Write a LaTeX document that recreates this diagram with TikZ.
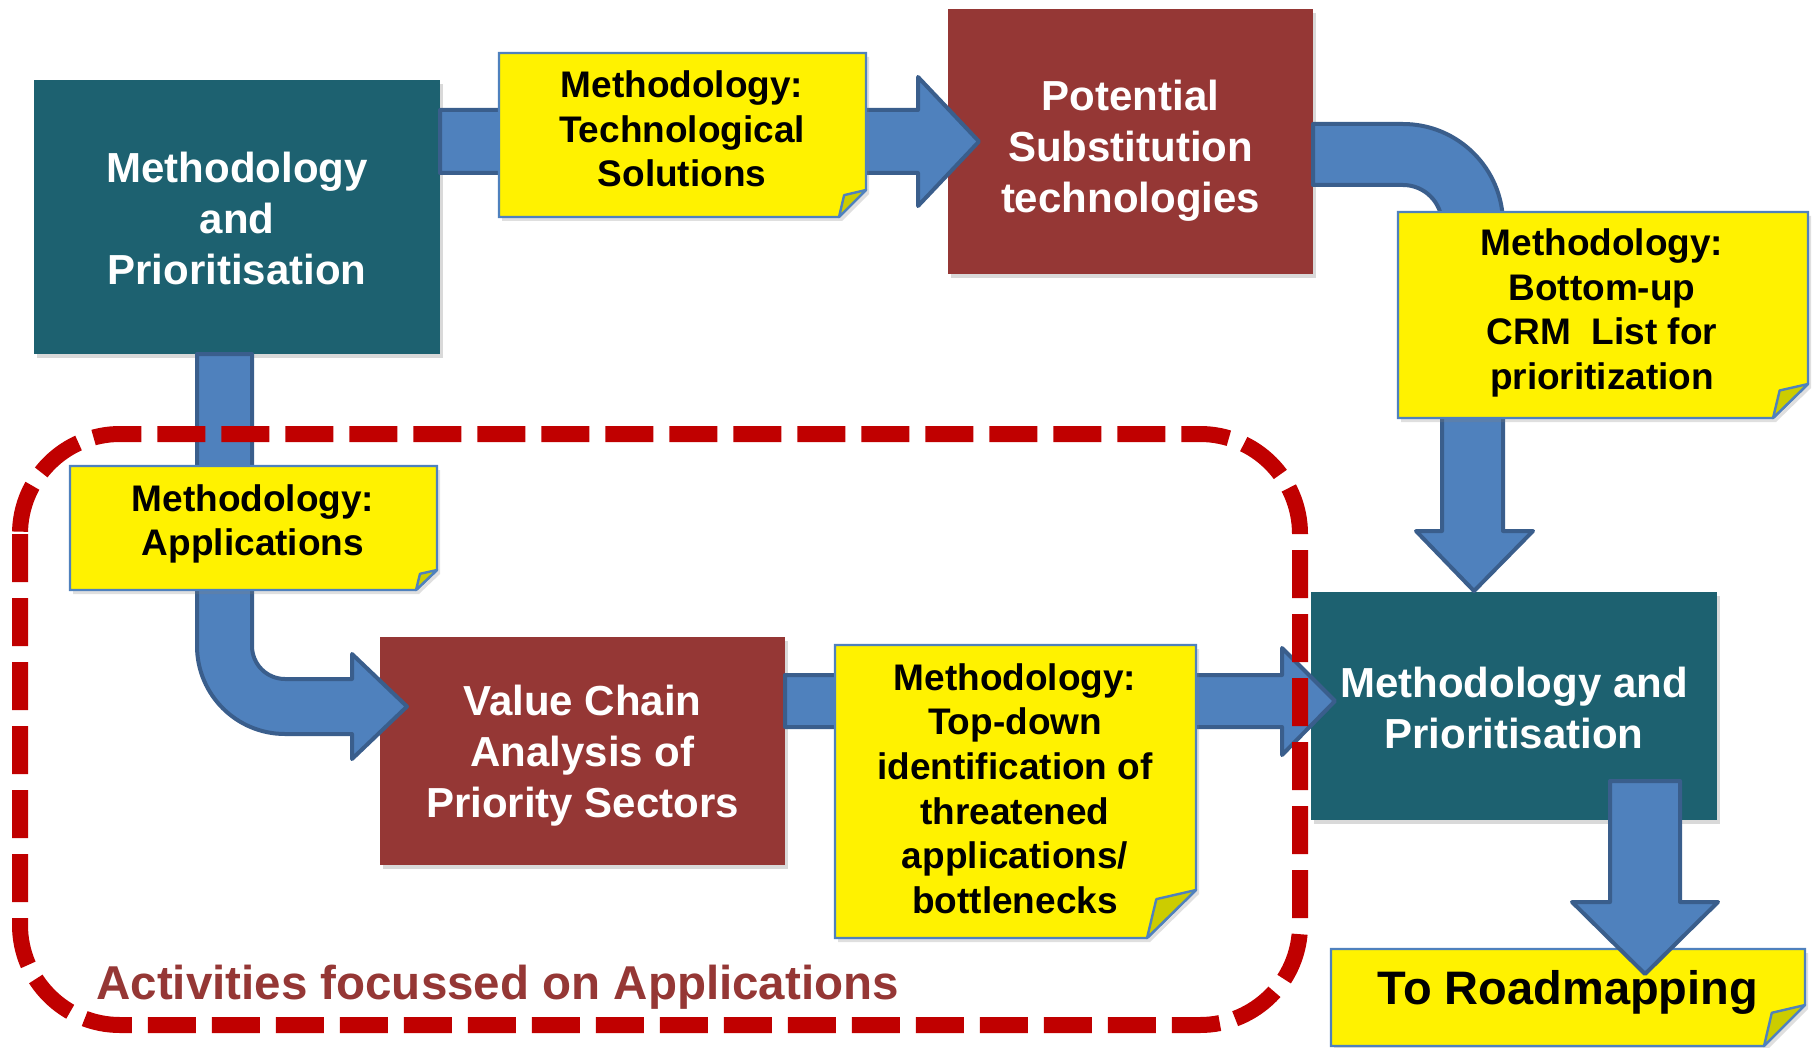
\documentclass[tikz,border=0pt]{standalone}
\usepackage{fontspec}
\setmainfont{Liberation Sans}
\usetikzlibrary{shadows,calc}
\definecolor{teal1}{HTML}{1D6170}
\definecolor{darkred1}{HTML}{953735}
\definecolor{arrowfill}{HTML}{4F81BD}
\definecolor{arrowline}{HTML}{3A5E8C}
\definecolor{noteline}{HTML}{4F81BD}
\definecolor{flapcol}{HTML}{CCCC00}
\definecolor{dashred}{HTML}{C00000}
\tikzset{
  box/.style={inner sep=0pt,
    drop shadow={opacity=0.3,shadow xshift=1.5pt,shadow yshift=-2pt}},
  boxtext/.style={inner sep=0pt, align=center, text=white,
    font=\bfseries\fontsize{21}{25.5}\selectfont},
  tealbox/.style={box, fill=teal1},
  redbox/.style={box, fill=darkred1},
  blockarrow/.style={fill=arrowfill, draw=arrowline, line width=2pt, line join=round},
  notebody/.style={fill=yellow, draw=noteline, line width=1.2pt, line join=miter,
    drop shadow={opacity=0.25,shadow xshift=1.5pt,shadow yshift=-2pt}},
  noteflap/.style={fill=flapcol, draw=noteline, line width=1.2pt, line join=round},
  notetext/.style={inner sep=0pt, align=center, text=black,
    font=\bfseries\fontsize{18.5}{22.3}\selectfont},
  grouprect/.style={draw=dashred, line width=8pt, dash pattern=on 24pt off 8pt, rounded corners=50pt},
}
\newcommand\mynote[6]{%
  \filldraw[notebody] (#1,#2) -- (#3,#2) -- (#3,#6) -- (#5,#4) -- (#1,#4) -- cycle;
  \filldraw[noteflap] (#3,#6) -- (#5,#4) -- ($(#5,#6)!0.19!(#3,#4)$) -- cycle;
}
\begin{document}
\begin{tikzpicture}[x=0.5pt,y=-0.5pt]
\useasboundingbox (0,0) rectangle (1818,1048);

% boxes
\node[tealbox, minimum width=203pt, minimum height=137pt] (A) at (237,217) {};
\node[redbox, minimum width=182.5pt, minimum height=132.5pt] (P) at (1130.5,141.5) {};
\node[redbox, minimum width=202.5pt, minimum height=114pt] (V) at (582.5,751) {};
\node[tealbox, minimum width=203pt, minimum height=114pt] (M) at (1514,706) {};

\node[boxtext] (At) at (237,218) {Methodology\\and\\Prioritisation};
\node[boxtext] (Pt) at (1130.5,151) {Potential\\Substitution\\technologies};
\node[boxtext] (Vt) at (582.5,756) {Value Chain\\Analysis of\\Priority Sectors};
\node[boxtext] (Mt) at (1514,707.5) {Methodology and\\Prioritisation};

% block arrows
\filldraw[blockarrow] (440,110) -- (918,110) -- (918,77) -- (979,141.5) -- (918,206) -- (918,173) -- (440,173) -- cycle;
\filldraw[blockarrow] (1313,124) -- (1403,124) .. controls (1458.2,124) and (1503,168.8) .. (1503,224)
  -- (1503,531) -- (1533,531) -- (1474,591) -- (1416,531) -- (1442,531) -- (1442,224)
  .. controls (1442,202.5) and (1424.5,185) .. (1403,185) -- (1313,185) -- cycle;
\filldraw[blockarrow] (197,354) -- (197,646) .. controls (197,694.6) and (236.4,734) .. (285,734)
  -- (352,734) -- (352,759) -- (407,706.5) -- (352,654) -- (352,679) -- (285,679)
  .. controls (266.8,679) and (252,664.2) .. (252,646) -- (252,354) -- cycle;
\filldraw[blockarrow] (785,675) -- (1282,675) -- (1282,648) -- (1335,701) -- (1282,755) -- (1282,727) -- (785,727) -- cycle;

% notes
\mynote{499}{53}{866}{217}{839}{190}
\node[notetext] (Tt) at (682,129) {Methodology:\\Technological\\Solutions};
\mynote{1398}{212}{1808}{418}{1773}{384}
\node[notetext] (Bt) at (1602,313) {Methodology:\\Bottom-up\\CRM\ \ List for\\prioritization};
\mynote{70}{466}{437}{590}{416}{570}
\node[notetext] (Apt) at (253,524) {Methodology:\\Applications};
\mynote{835}{645}{1196}{938}{1147}{890}
\node[notetext] (Tdt) at (1015,788.5) {Methodology:\\Top-down\\identification of\\threatened\\applications/\\bottlenecks};
\mynote{1331}{949}{1805}{1046}{1764}{1005}
\node[notetext, anchor=base, font=\bfseries\fontsize{23.5}{28}\selectfont] (Rt) at (1568,1004) {To Roadmapping};

% arrow to roadmapping (on top of box and note)
\filldraw[blockarrow] (1610,781) -- (1680,781) -- (1680,902) -- (1718,902) -- (1645,974) -- (1572,902) -- (1610,902) -- cycle;

% dashed group
\draw[grouprect] (20,434) rectangle (1300,1025);
\node[anchor=base west, inner sep=0pt, text=darkred1, font=\bfseries\fontsize{23.75}{28}\selectfont] (lab) at (96,999) {Activities focussed on Applications};
\end{tikzpicture}
\end{document}
